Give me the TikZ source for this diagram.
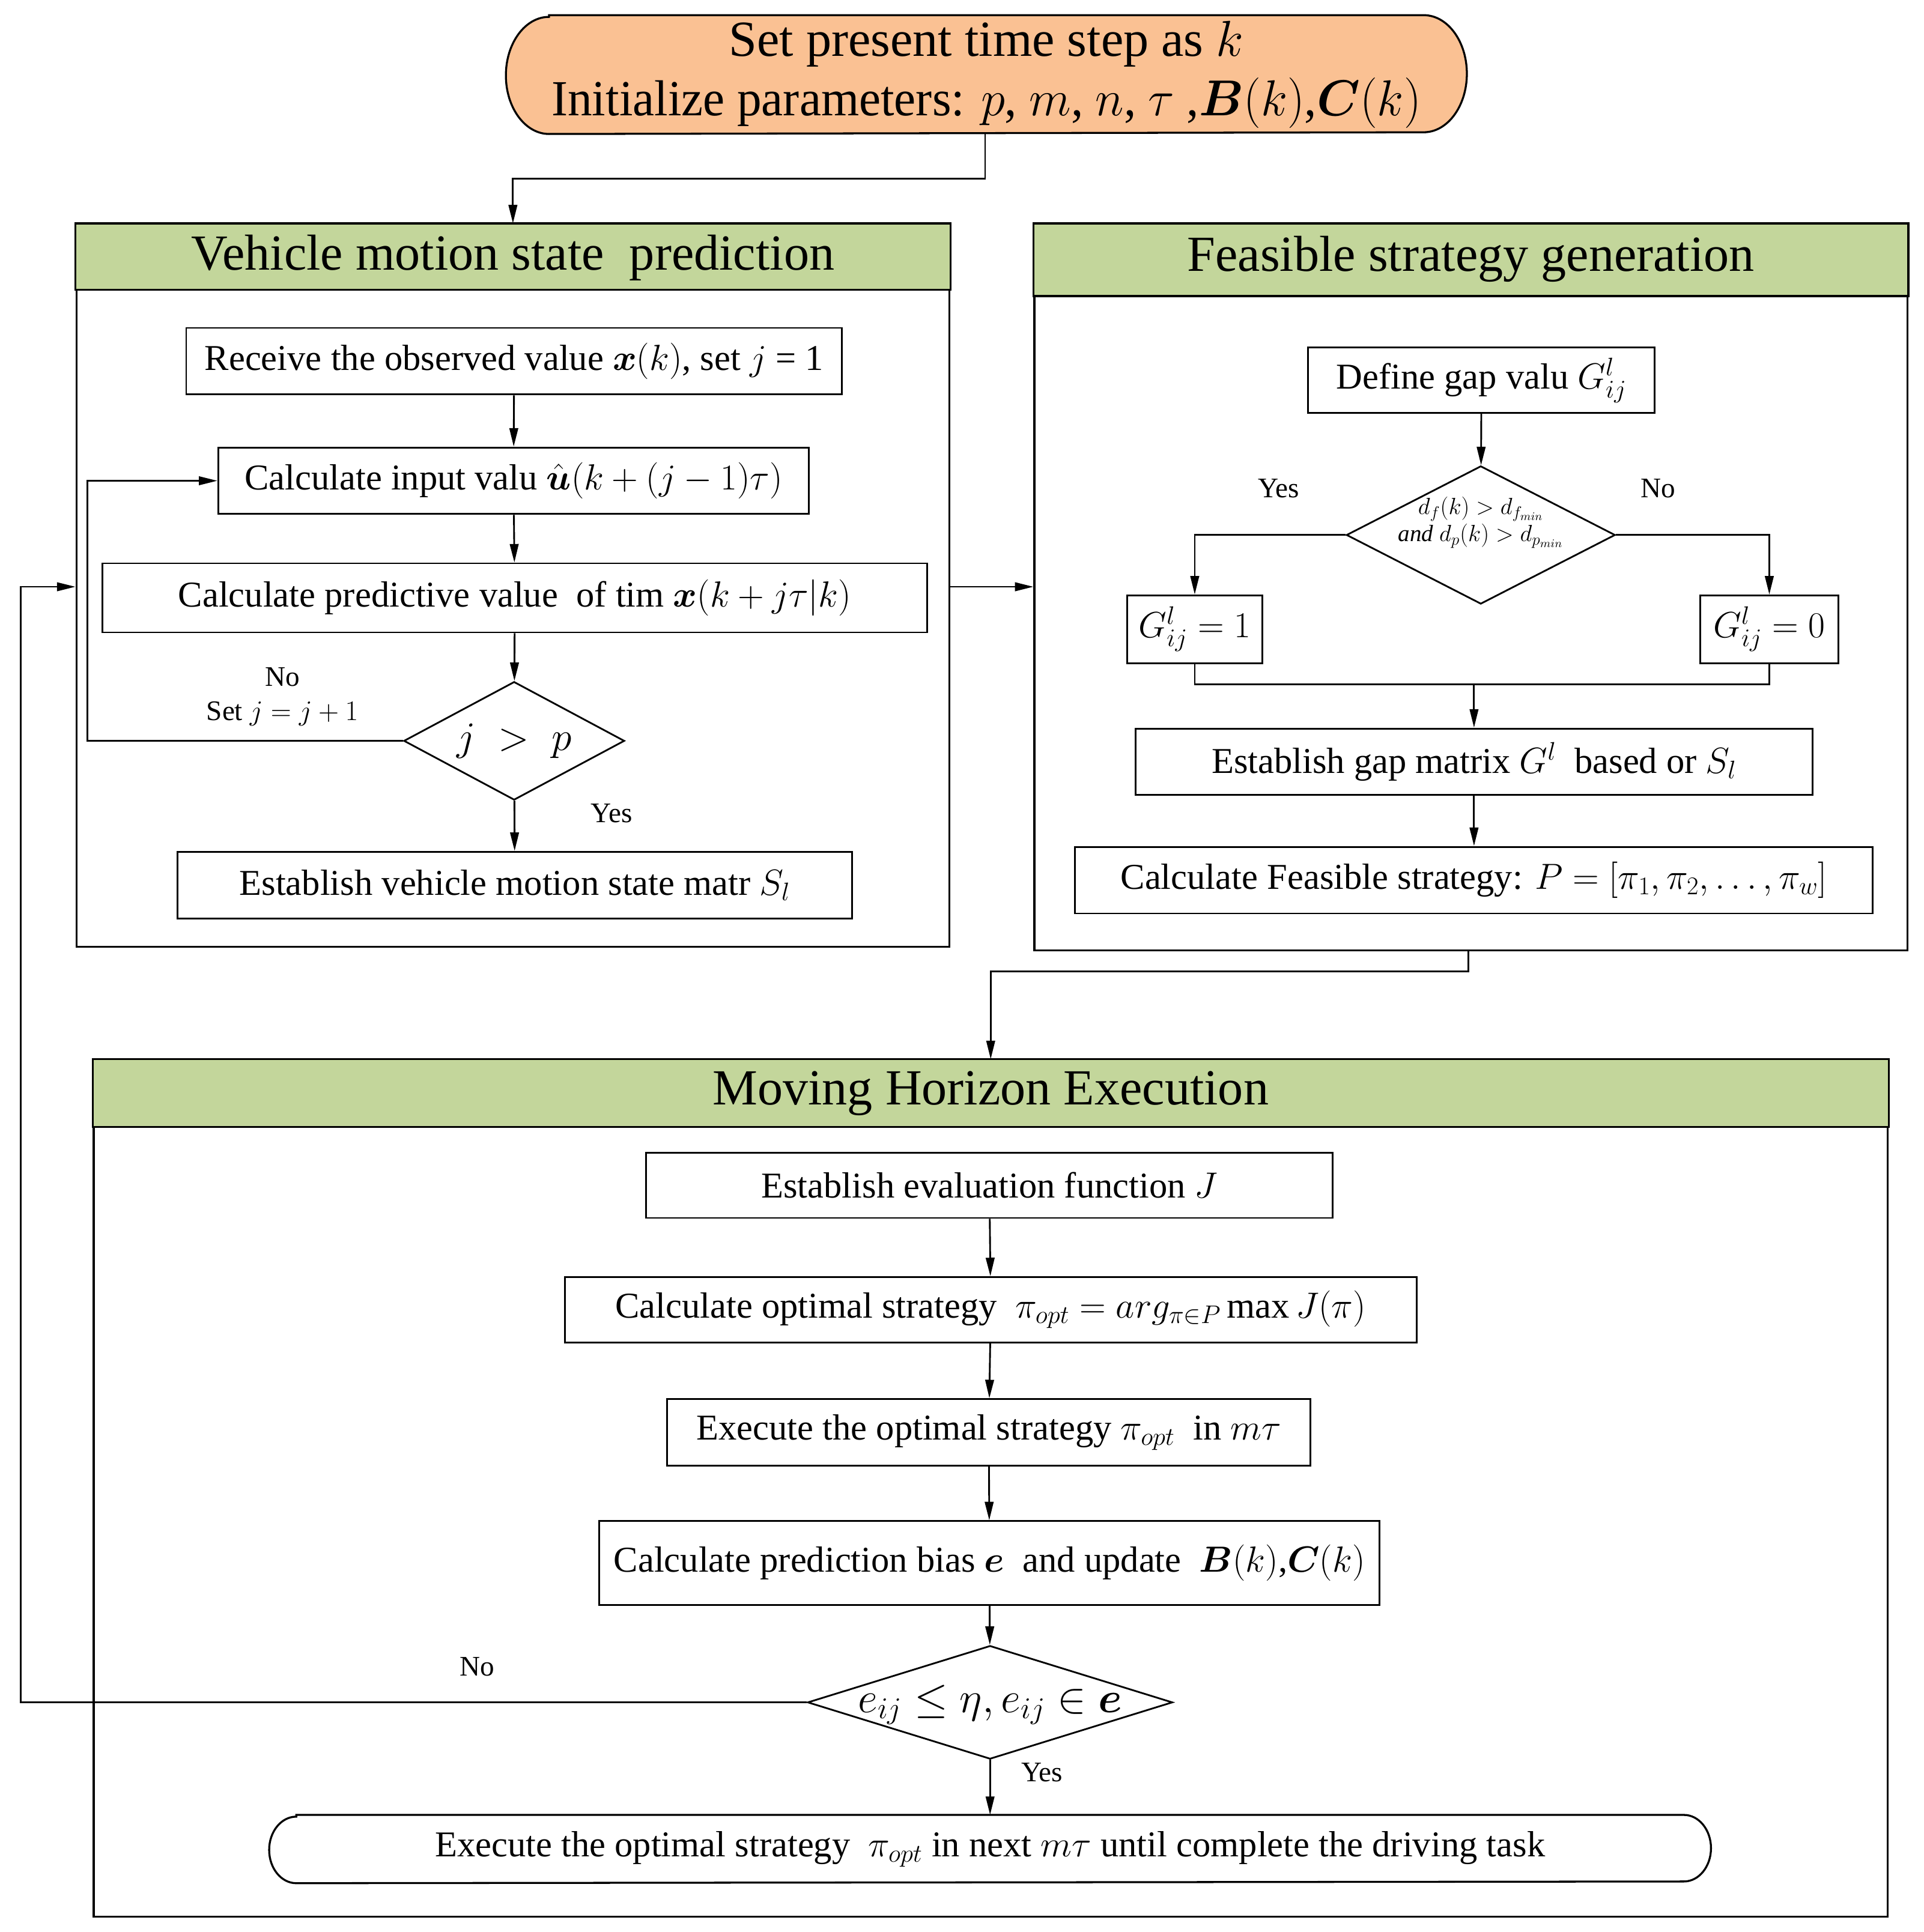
\RequirePackage{fix-cm}
\documentclass[tikz,border=0pt]{standalone}
\usepackage{amsmath}
\usepackage{graphicx}
\usepackage{fontspec}
\setmainfont{Liberation Serif}
\usetikzlibrary{shapes.geometric,arrows.meta,backgrounds}
\newcommand{\zb}[2][0pt]{\smash{\makebox[0pt]{\raisebox{\dimexpr#1-0.25em\relax}{\begin{tabular}{@{}c@{}}#2\end{tabular}}}}}
\definecolor{peach}{HTML}{FAC193}
\definecolor{olivegr}{HTML}{C3D69B}
\begin{document}
\begin{tikzpicture}[x=1pt,y=-1pt,line width=1.4pt,
  box/.style={draw,rectangle,inner sep=0pt,font=\fontsize{29.5}{34}\selectfont},
  grp/.style={draw,rectangle,inner sep=0pt,line width=1.6pt},
  hdr/.style={draw,fill=olivegr,line width=1.6pt},
  ttl/.style={inner sep=0pt,font=\fontsize{41}{46}\selectfont},
  dia/.style={draw,diamond,inner sep=0pt,font=\fontsize{29.5}{34}\selectfont},
  lbl/.style={inner sep=0pt,font=\fontsize{23}{28}\selectfont},
  arr/.style={-{Triangle[length=15pt,width=7pt]}},
  term/.style={inner sep=0pt,align=center}]
\useasboundingbox (0,0) rectangle (1560,1567.3);

% ---------- top terminal
\node[term,minimum width=778pt,minimum height=95pt,font=\fontsize{41}{50}\selectfont] (top) at (800,60.5)
  {Set present time step as $k$\\[-2pt]\scalebox{0.965}[1]{Initialize parameters: $p$, $m$, $n$, $\tau$ ,$\boldsymbol{B}(k)$,$\boldsymbol{C}(k)$}};
\begin{scope}[on background layer]
\draw[fill=peach,line width=1.6pt] ([xshift=35pt]top.north west) -- ([xshift=-35pt]top.north east)
  arc[start angle=90,end angle=-90,x radius=35pt,y radius=47.5pt]
  -- ([xshift=35pt]top.south west)
  arc[start angle=270,end angle=90,x radius=35pt,y radius=47.5pt] -- cycle;
\end{scope}

% ---------- group 1
\node[grp,minimum width=708pt,minimum height=586pt] (G1) at (416,475) {};
\draw[hdr] (G1.north west) rectangle ([yshift=-54pt]G1.north east);
\node[ttl] (T1) at (416,209) {Vehicle motion state\ \ prediction};

\node[box,minimum width=532pt,minimum height=54pt] (r1) at (417,293) {Receive the observed value $\boldsymbol{x}(k)$, set $j$ = 1};
\node[box,minimum width=479pt,minimum height=54pt] (r2) at (416.5,390) {Calculate input valu $\hat{\boldsymbol{u}}(k+(j-1)\tau)$};
\node[box,minimum width=669pt,minimum height=56pt] (r3) at (417.5,485) {Calculate predictive value\ \ of tim $\boldsymbol{x}(k+j\tau|k)$};
\node[dia,minimum width=179pt,minimum height=96pt,font=\fontsize{33}{38}\selectfont] (d1) at (417,601) {\zb{$j\;>\;p$}};
\node[box,minimum width=547pt,minimum height=54pt] (r4) at (417.5,718) {Establish vehicle motion state matr $S_l$};

\draw[arr] (r1) -- (r2);
\draw[arr] (r2) -- (r3);
\draw[arr] (r3) -- (d1);
\draw[arr] (d1) -- (r4);
\draw[arr] (d1.west) -- (71,601) -- (71,390) -- (r2.west);
\node[lbl] (no1) at (229,549) {No};
\node[lbl] (set1) at (229,579) {Set $j=j+1$};
\node[lbl] (yes1) at (496,660) {Yes};

% ---------- group 2
\node[grp,minimum width=708pt,minimum height=589pt] (G2) at (1193,476.5) {};
\draw[hdr] (G2.north west) rectangle ([yshift=-59pt]G2.north east);
\node[ttl] (T2) at (1193,210) {Feasible strategy generation};

\node[box,minimum width=281pt,minimum height=53pt] (g1) at (1201.5,308.5) {Define gap valu $G_{ij}^{l}$};
\node[dia,minimum width=218pt,minimum height=112pt,font=\fontsize{19}{21}\selectfont] (d2) at (1201,434)
  {\zb[10pt]{$d_f(k) > d_{f_{min}}$\\[1pt]\itshape and $d_p(k) > d_{p_{min}}$}};
\node[box,minimum width=110pt,minimum height=55pt] (g2) at (969,510.5) {$G_{ij}^{l} = 1$};
\node[box,minimum width=112pt,minimum height=55pt] (g3) at (1435,510.5) {$G_{ij}^{l} = 0$};
\node[box,minimum width=549pt,minimum height=54pt] (g4) at (1195.5,618) {Establish gap matrix $G^{l}$\ \ based or\ $S_l$};
\node[box,minimum width=647pt,minimum height=54pt] (g5) at (1195.5,714) {Calculate Feasible strategy: $P=[\pi_1,\pi_2,\dots,\pi_w]$};
\coordinate (jn) at (1195.5,555);

\draw[arr] (g1) -- (d2);
\draw[arr] (d2.west) -| (g2.north);
\draw[arr] (d2.east) -| (g3.north);
\draw (g2.south) |- (jn) -| (g3.south);
\draw[arr] (jn) -- (g4.north);
\draw[arr] (g4) -- (g5);
\node[lbl] (yes2) at (1037,396) {Yes};
\node[lbl] (no2) at (1345,396) {No};

% ---------- group 3
\node[grp,minimum width=1455pt,minimum height=695pt] (G3) at (803.5,1207.5) {};
\draw[hdr] (G3.north west) rectangle ([yshift=-55pt]G3.north east);
\node[ttl] (T3) at (803.5,887) {Moving Horizon Execution};

\node[box,minimum width=557pt,minimum height=53pt] (m1) at (802.5,961.5) {Establish evaluation function $J$};
\node[box,minimum width=691pt,minimum height=53pt] (m2) at (803.5,1062.5) {Calculate optimal strategy\ \ $\pi_{opt}=arg_{\pi\in P}\max J(\pi)$};
\node[box,minimum width=522pt,minimum height=54pt] (m3) at (802,1162) {Execute the optimal strategy $\pi_{opt}$\ \ in $m\tau$};
\node[box,minimum width=633pt,minimum height=68pt] (m4) at (802.5,1268) {Calculate prediction bias $\boldsymbol{e}$\ \ and update\ \ $\boldsymbol{B}(k)$,$\boldsymbol{C}(k)$};
\node[dia,minimum width=296pt,minimum height=92pt,font=\fontsize{35}{40}\selectfont] (d3) at (803,1381) {\zb{$e_{ij}\le\eta, e_{ij}\in\boldsymbol{e}$}};
\node[term,minimum width=1168pt,minimum height=54pt,font=\fontsize{29.5}{34}\selectfont] (m5) at (803,1500)
  {Execute the optimal strategy\ \ $\pi_{opt}$ in next $m\tau$ until complete the driving task};
\begin{scope}[on background layer]
\draw[line width=1.6pt] ([xshift=22pt]m5.north west) -- ([xshift=-22pt]m5.north east)
  arc[start angle=90,end angle=-90,x radius=22pt,y radius=27pt]
  -- ([xshift=22pt]m5.south west)
  arc[start angle=270,end angle=90,x radius=22pt,y radius=27pt] -- cycle;
\end{scope}

\draw[arr] (m1) -- (m2);
\draw[arr] (m2) -- (m3);
\draw[arr] (m3) -- (m4);
\draw[arr] (m4) -- (d3);
\draw[arr] (d3) -- (m5);
\node[lbl] (no3) at (387,1352) {No};
\node[lbl] (yes3) at (845,1438) {Yes};

% ---------- links between groups
\draw[arr] (top.south -| 799,0) -- (799,145) -- (416,145) -- (G1.north);
\draw[arr] (G1.east |- 0,476) -- (G2.west |- 0,476);
\draw[arr] (G2.south -| 1191,0) -- (1191,788) -- (803.5,788) -- (G3.north);
\draw[arr] (d3.west) -- (17,1381) -- (17,476) -- (G1.west |- 0,476);
\end{tikzpicture}
\end{document}
